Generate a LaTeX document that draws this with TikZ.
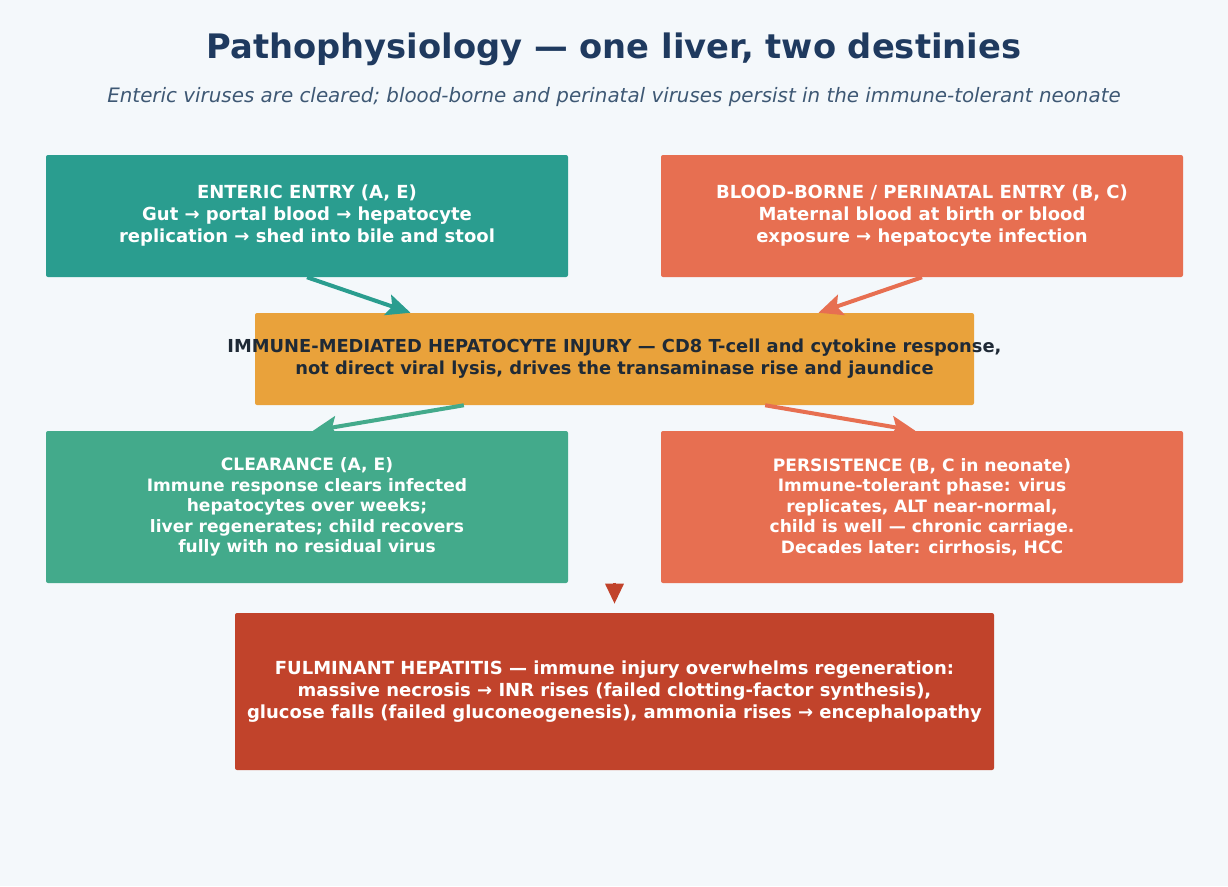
\documentclass[tikz,border=0pt]{standalone}
\usepackage{fontspec}
\setmainfont{DejaVu Sans}
\usetikzlibrary{positioning,arrows.meta}

\definecolor{bgpage}{HTML}{F4F8FB}
\definecolor{navy}{HTML}{1F3A5F}
\definecolor{slate}{HTML}{3E5874}
\definecolor{ink}{HTML}{1F2A36}
\definecolor{teal}{HTML}{2A9D8F}
\definecolor{coral}{HTML}{E76F51}
\definecolor{amber}{HTML}{E9A23B}
\definecolor{jade}{HTML}{43AA8B}
\definecolor{brick}{HTML}{C1432B}

\begin{document}
\begin{tikzpicture}[
    x=0.75pt, y=-0.75pt,
    stage/.style={
        rectangle,
        rounded corners=1.5pt,
        inner sep=0pt,
        minimum width=391.5pt,
        minimum height=91.5pt,
        align=center,
        text=white,
        font=\bfseries\fontsize{13.5}{16.5}\selectfont
    },
    arrow/.style={-{Stealth[length=18pt,width=16pt,inset=3.5pt]}, line width=3pt}
]

\fill[bgpage] (0,0) rectangle (1228,886);
\useasboundingbox (0,0) rectangle (1228,886);

\node[font=\bfseries\fontsize{25.3}{30}\selectfont, text=navy] (title) at (614,49)
{Pathophysiology — one liver, two destinies};
\node[font=\itshape\fontsize{14.9}{18}\selectfont, text=slate] (subtitle) at (614,97)
{Enteric viruses are cleared; blood-borne and perinatal viruses persist in the immune-tolerant neonate};

\node[stage, fill=teal] (enteric) at (307,216)
{ENTERIC ENTRY (A, E)\\ Gut → portal blood → hepatocyte\\ replication → shed into bile and stool};

\node[stage, fill=coral] (blood) at (922,216)
{BLOOD-BORNE / PERINATAL ENTRY (B, C)\\ Maternal blood at birth or blood\\ exposure → hepatocyte infection};

% text is wider than its box
\node[stage, fill=amber, minimum width=539.25pt, minimum height=69pt] (immune) at (614.5,359) {};
\node[align=center, text=ink, font=\bfseries\fontsize{13.4}{16.5}\selectfont] (immunetext) at (immune)
{IMMUNE-MEDIATED HEPATOCYTE INJURY — CD8 T-cell and cytokine response,\\ not direct viral lysis, drives the transaminase rise and jaundice};

\node[stage, fill=jade, minimum height=114pt, font=\bfseries\fontsize{12.8}{15.4}\selectfont] (clearance) at (307,507)
{CLEARANCE (A, E)\\ Immune response clears infected\\ hepatocytes over weeks;\\ liver regenerates; child recovers\\ fully with no residual virus};

\node[stage, fill=coral, minimum height=114pt, font=\bfseries\fontsize{12.8}{15.4}\selectfont] (persistence) at (922,507)
{PERSISTENCE (B, C in neonate)\\ Immune-tolerant phase: virus\\ replicates, ALT near-normal,\\ child is well — chronic carriage.\\ Decades later: cirrhosis, HCC};

\node[stage, fill=brick, minimum width=569.25pt, minimum height=117.75pt] (fulminant) at (614.5,691.5)
{FULMINANT HEPATITIS — immune injury overwhelms regeneration:\\ massive necrosis → INR rises (failed clotting-factor synthesis),\\ glucose falls (failed gluconeogenesis), ammonia rises → encephalopathy};

\draw[arrow, teal] (enteric.south) -- ([xshift=-153pt]immune.north);
\draw[arrow, coral] (blood.south) -- ([xshift=153pt]immune.north);
\draw[arrow, jade] ([xshift=-113pt]immune.south) -- ([xshift=4.5pt]clearance.north);
\draw[arrow, coral] ([xshift=113pt]immune.south) -- ([xshift=-5pt]persistence.north);
\draw[brick, line width=2.5pt, -{Stealth[length=15pt,width=13.5pt,inset=0pt]}]
    ([yshift=22.5pt]fulminant.north) -- ([yshift=6.75pt]fulminant.north);

\end{tikzpicture}
\end{document}
